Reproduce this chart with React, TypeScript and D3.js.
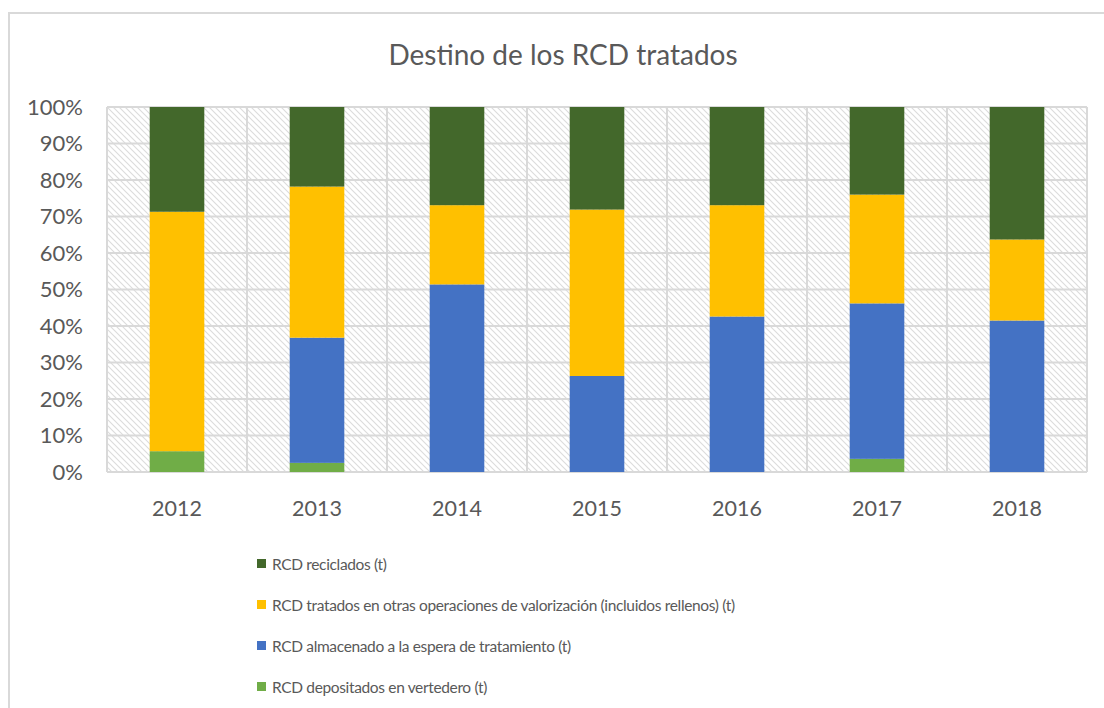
import React from 'react';
import * as d3 from 'd3';

const years = ['2012', '2013', '2014', '2015', '2016', '2017', '2018'];

// shares in % (bottom to top in the stack)
const vertedero = [5.7, 2.5, 0, 0, 0, 3.6, 0];
const almacenado = [0, 34.3, 51.4, 26.3, 42.6, 42.6, 41.5];
const otras = [65.6, 41.4, 21.7, 45.6, 30.5, 29.8, 22.2];
const reciclados = [28.7, 21.8, 26.9, 28.1, 26.9, 24.0, 36.3];

const seriesNames = [
  'RCD depositados en vertedero (t)',
  'RCD almacenado a la espera de tratamiento (t)',
  'RCD tratados en otras operaciones de valorización (incluidos rellenos) (t)',
  'RCD reciclados  (t)',
];
const seriesKeys = ['vertedero', 'almacenado', 'otras', 'reciclados'];
const seriesColors = ['#70ad47', '#4472c4', '#ffc000', '#43682b'];
const yTicks = [0, 10, 20, 30, 40, 50, 60, 70, 80, 90, 100];

const W = 1104;
const H = 708;
const FONT = 'Lato, "Open Sans", sans-serif';
const GREY = '#595959';

const App: React.FC = () => {
  const rows = years.map((y, i) => ({
    year: y,
    vertedero: vertedero[i],
    almacenado: almacenado[i],
    otras: otras[i],
    reciclados: reciclados[i],
  }));

  const plot = { left: 107, right: 1087, top: 107, bottom: 472 };

  const x = d3.scaleBand<string>().domain(years).range([plot.left, plot.right]);
  const y = d3.scaleLinear().domain([0, 100]).range([plot.bottom, plot.top]);
  const barW = x.bandwidth() * 0.39;

  const stack = d3.stack<any>().keys(seriesKeys);
  const layers = stack(rows);

  const legendOrder = [3, 2, 1, 0];

  return (
    <svg width={W} height={H} style={{ position: 'absolute', left: 0, top: 0, background: '#fff' }}>
      <defs>
        <pattern id="hatch" width={6} height={6} patternUnits="userSpaceOnUse">
          <rect width={6} height={6} fill="#fff" />
          <path d="M-1,-1 L7,7 M-1,5 L1,7 M5,-1 L7,1" stroke="#dcdcdc" strokeWidth={1.1} />
        </pattern>
      </defs>

      {/* chart frame */}
      <rect x={9} y={13} width={1200} height={800} fill="#fff" stroke="#d9d9d9" strokeWidth={2} />

      <text x={563} y={65} textAnchor="middle" fontFamily={FONT} fontSize={28} fill={GREY}>
        Destino de los RCD tratados
      </text>

      {/* plot area */}
      <rect
        x={plot.left}
        y={plot.top}
        width={plot.right - plot.left}
        height={plot.bottom - plot.top}
        fill="url(#hatch)"
      />
      {yTicks.map((t) => (
        <line key={'g' + t} x1={plot.left} x2={plot.right} y1={y(t)} y2={y(t)} stroke="#d9d9d9" strokeWidth={2} />
      ))}
      {years.concat(['end']).map((yr, i) => {
        const xx = i < years.length ? (x(yr) as number) : plot.right;
        return <line key={'v' + yr} x1={xx} x2={xx} y1={plot.top} y2={plot.bottom} stroke="#d9d9d9" strokeWidth={2} />;
      })}

      {layers.map((layer, li) => (
        <g key={seriesKeys[li]} fill={seriesColors[li]}>
          {layer.map((d, i) => {
            const h = y(d[0]) - y(d[1]);
            if (h <= 0) return null;
            return (
              <rect
                key={i}
                x={(x(years[i]) as number) + (x.bandwidth() - barW) / 2}
                y={y(d[1])}
                width={barW}
                height={h}
              />
            );
          })}
        </g>
      ))}

      {yTicks.map((t) => (
        <text key={'t' + t} x={83} y={y(t) + 7.5} textAnchor="end" fontFamily={FONT} fontSize={22} fill={GREY}>
          {t + '%'}
        </text>
      ))}
      {years.map((yr) => (
        <text
          key={'x' + yr}
          x={(x(yr) as number) + x.bandwidth() / 2}
          y={516}
          textAnchor="middle"
          fontFamily={FONT}
          fontSize={21.5}
          fill={GREY}
        >
          {yr}
        </text>
      ))}

      {legendOrder.map((si, k) => {
        const cy = 564 + k * 41;
        return (
          <g key={'l' + si}>
            <rect x={257} y={cy - 5} width={9} height={9} fill={seriesColors[si]} />
            <text
              x={272}
              y={cy + 5.5}
              fontFamily={FONT}
              fontSize={15.5}
              letterSpacing={-0.35}
              fill={GREY}
            >
              {seriesNames[si]}
            </text>
          </g>
        );
      })}
    </svg>
  );
};

export default App;
